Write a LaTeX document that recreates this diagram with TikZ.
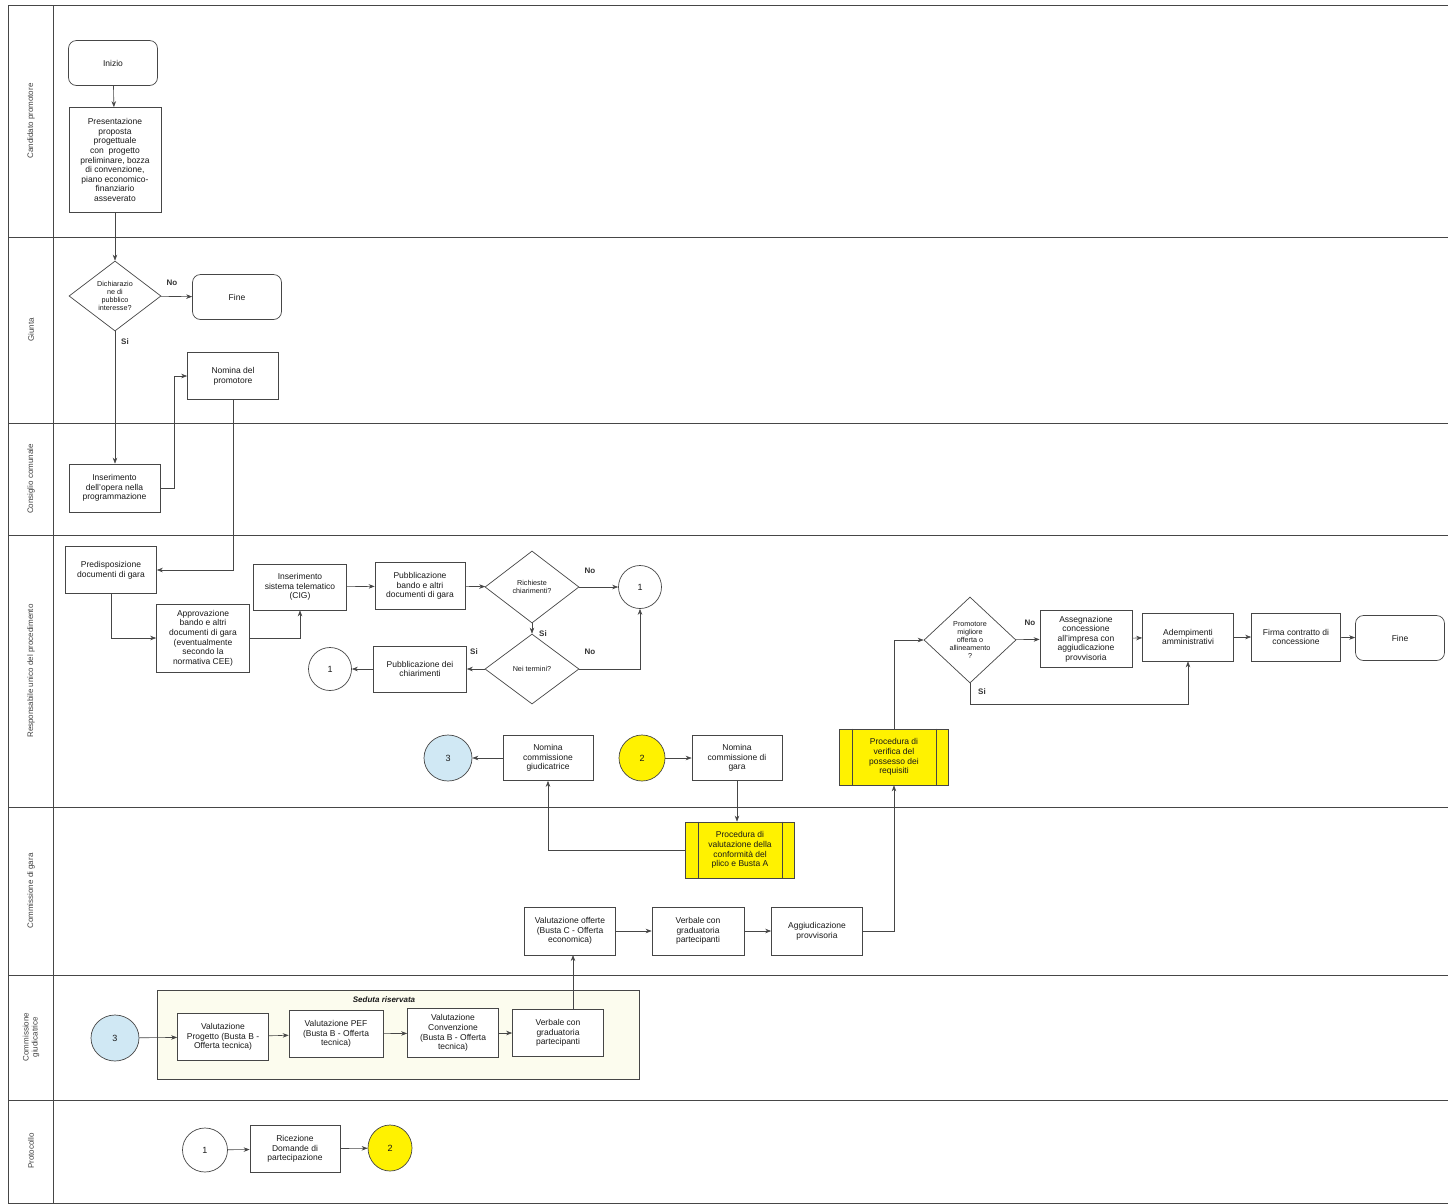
\documentclass[tikz,border=0pt]{standalone}
\usepackage{fontspec}
\setmainfont{Liberation Sans}
\usetikzlibrary{shapes.geometric,arrows.meta}
\definecolor{linec}{RGB}{70,70,70}
\definecolor{yel}{RGB}{255,242,0}
\definecolor{lblue}{RGB}{208,232,244}
\definecolor{cream}{RGB}{252,252,238}
\tikzset{
  every node/.style={font=\fontsize{8.5}{9.6}\selectfont, text=black!90},
  box/.style={draw=linec, fill=white, line width=0.7pt, align=center, inner sep=2pt},
  term/.style={box, rounded corners=8pt},
  dec/.style={draw=linec, fill=white, line width=0.7pt, diamond, aspect=1.3, align=center, inner sep=0pt, font=\fontsize{7.2}{8.2}\selectfont},
  conn/.style={draw=linec, fill=white, line width=0.7pt, ellipse, font=\fontsize{9}{10}\selectfont},
  proc/.style={box, fill=yel},
  lane/.style={rotate=90, font=\fontsize{8}{9}\selectfont, text=black!75},
  arr/.style={draw=linec, line width=0.6pt, -{Stealth[length=6pt,width=4.5pt]}},
  lbl/.style={font=\fontsize{8}{9}\selectfont\bfseries, text=black!80},
}
\begin{document}
\begin{tikzpicture}[x=1pt,y=-1pt]
\useasboundingbox (0,0) rectangle (1448,1203);
\fill[white] (0,0) rectangle (1448,1203);
% lanes
\draw[linec, line width=1pt] (8,5) rectangle (1448,1203);
\draw[linec, line width=1pt] (53,5) -- (53,1203);
\foreach \y in {237,423,535,807,975,1100} \draw[linec, line width=1pt] (8,\y) -- (1448,\y);
\node[lane] (l1) at (31,121) {Candidato promotore};
\node[lane] (l2) at (31,330) {Giunta};
\node[lane] (l3) at (31,479) {Consiglio comunale};
\node[lane] (l4) at (31,671) {Responsabile unico del procedimento};
\node[lane] (l5) at (31,891) {Commissione di gara};
\node[lane, align=center] (l6) at (31,1037) {Commissione\\giudicatrice};
\node[lane] (l7) at (31,1151) {Protocollo};

% Candidato promotore
\node[term, minimum width=89, minimum height=45] (inizio) at (113,63) {Inizio};
\node[box, minimum width=92, minimum height=105] (pres) at (115,160) {Presentazione\\proposta\\progettuale\\con \ progetto\\preliminare, bozza\\di convenzione,\\piano economico-\\finanziario\\asseverato};

% Giunta
\node[dec, minimum width=92, minimum height=70] (dich) at (115,296) {Dichiarazio\\ne di\\pubblico\\interesse?};
\node[term, minimum width=89, minimum height=45] (fine1) at (237,297) {Fine};
\node[box, minimum width=91, minimum height=47] (nomprom) at (233,376) {Nomina del\\promotore};
\node[lbl] (no1) at (172,283) {No};
\node[lbl] (si1) at (125,342) {Si};

% Consiglio comunale
\node[box, minimum width=91, minimum height=48] (inser) at (114.5,488) {Inserimento\\dell'opera nella\\programmazione};

% RUP
\node[box, minimum width=91, minimum height=47] (predisp) at (111,570) {Predisposizione\\documenti di gara};
\node[box, minimum width=93, minimum height=68] (approv) at (203,638) {Approvazione\\bando e altri\\documenti di gara\\(eventualmente\\secondo la\\normativa CEE)};
\node[box, minimum width=93, minimum height=46] (cig) at (300,587) {Inserimento\\sistema telematico\\(CIG)};
\node[box, minimum width=90, minimum height=47] (pubbl) at (420,586) {Pubblicazione\\bando e altri\\documenti di gara};
\node[dec, minimum width=94, minimum height=72] (rich) at (532,587) {Richieste\\chiarimenti?};
\node[conn, minimum width=43, minimum height=43] (c1a) at (640,587) {1};
\node[dec, minimum width=94, minimum height=70] (term) at (532,669) {Nei termini?};
\node[box, minimum width=93, minimum height=46] (pchiar) at (420,669) {Pubblicazione dei\\chiarimenti};
\node[conn, minimum width=43, minimum height=43] (c1b) at (330,669) {1};
\node[lbl] (no2) at (590,571) {No};
\node[lbl] (si2) at (543,634) {Si};
\node[lbl] (no3) at (590,652) {No};
\node[lbl] (si3) at (474,652) {Si};

\node[conn, fill=lblue, minimum width=48, minimum height=46] (c3a) at (448,758) {3};
\node[box, minimum width=90, minimum height=45] (nomgiud) at (548,758) {Nomina\\commissione\\giudicatrice};
\node[conn, fill=yel, minimum width=46, minimum height=46] (c2a) at (642,758) {2};
\node[box, minimum width=90, minimum height=45] (nomgara) at (737,758) {Nomina\\commissione di\\gara};
\node[proc, minimum width=109, minimum height=56] (verif) at (894,757) {Procedura di\\verifica del\\possesso dei\\requisiti};
\draw[linec, line width=0.7pt] ([xshift=13]verif.north west) -- ([xshift=13]verif.south west);
\draw[linec, line width=0.7pt] ([xshift=-13]verif.north east) -- ([xshift=-13]verif.south east);

\node[dec, minimum width=92, minimum height=86] (prom) at (970,640) {Promotore\\migliore\\offerta o\\allineamento\\?};
\node[box, minimum width=92, minimum height=57] (assegn) at (1086,639) {Assegnazione\\concessione\\all'impresa con\\aggiudicazione\\provvisoria};
\node[box, minimum width=91, minimum height=48] (ademp) at (1188,637) {Adempimenti\\amministrativi};
\node[box, minimum width=89, minimum height=48] (firma) at (1296,637) {Firma contratto di\\concessione};
\node[term, minimum width=89, minimum height=45] (fine2) at (1400,638) {Fine};
\node[lbl] (no4) at (1030,623) {No};
\node[lbl] (si4) at (982,692) {Si};

% Commissione di gara
\node[proc, minimum width=109, minimum height=56] (pval) at (740,850) {Procedura di\\valutazione della\\conformità del\\plico e Busta A};
\draw[linec, line width=0.7pt] ([xshift=13]pval.north west) -- ([xshift=13]pval.south west);
\draw[linec, line width=0.7pt] ([xshift=-13]pval.north east) -- ([xshift=-13]pval.south east);
\node[box, minimum width=91, minimum height=48] (valoff) at (570,931) {Valutazione offerte\\(Busta C - Offerta\\economica)};
\node[box, minimum width=92, minimum height=48] (verb1) at (698,931) {Verbale con\\graduatoria\\partecipanti};
\node[box, minimum width=91, minimum height=48] (aggiud) at (817,931) {Aggiudicazione\\provvisoria};

% Commissione giudicatrice
\node[draw=linec, fill=cream, line width=0.7pt, minimum width=482, minimum height=89] (seduta) at (398,1034.5) {};
\node[font=\fontsize{8}{9}\selectfont\bfseries\itshape] (sedt) at (384,1000) {Seduta riservata};
\node[conn, fill=lblue, minimum width=48, minimum height=46] (c3b) at (115,1038) {3};
\node[box, minimum width=91, minimum height=47] (vprog) at (223,1037) {Valutazione\\Progetto (Busta B -\\Offerta tecnica)};
\node[box, minimum width=94, minimum height=47] (vpef) at (336,1034) {Valutazione PEF\\(Busta B - Offerta\\tecnica)};
\node[box, minimum width=91, minimum height=49] (vconv) at (453,1033) {Valutazione\\Convenzione\\(Busta B - Offerta\\tecnica)};
\node[box, minimum width=91, minimum height=47] (verb2) at (558,1033) {Verbale con\\graduatoria\\partecipanti};

% Protocollo
\node[conn, minimum width=45, minimum height=44] (c1c) at (205,1150) {1};
\node[box, minimum width=90, minimum height=47] (ricez) at (295,1149) {Ricezione\\Domande di\\partecipazione};
\node[conn, fill=yel, minimum width=44, minimum height=46] (c2b) at (390,1148) {2};

% connectors
\draw[arr] (inizio) -- (pres);
\draw[arr] (pres) -- (dich);
\draw[arr] (dich) -- (fine1);
\draw[arr] (dich.south) -- (dich.south |- inser.north);
\draw[arr] (inser.east) -- (174,488) |- (nomprom.west);
\draw[arr] (nomprom.south) |- (predisp.east);
\draw[arr] (predisp.south) |- (approv.west);
\draw[arr] (approv.east) -| (cig.south);
\draw[arr] (cig) -- (pubbl);
\draw[arr] (pubbl) -- (rich);
\draw[arr] (rich) -- (c1a);
\draw[arr] (rich.south) -- (term.north);
\draw[arr] (term.east) -| (c1a.south);
\draw[arr] (term) -- (pchiar);
\draw[arr] (pchiar) -- (c1b);
\draw[arr] (nomgiud) -- (c3a);
\draw[arr] (c2a) -- (nomgara);
\draw[arr] (nomgara.south) -- (nomgara.south |- pval.north);
\draw[arr] (pval.west) -| (nomgiud.south);
\draw[arr] (verb2.north -| 573,0) -- (573,955);
\draw[arr] (valoff) -- (verb1);
\draw[arr] (verb1) -- (aggiud);
\draw[arr] (aggiud.east) -| (verif.south);
\draw[arr] (verif.north) |- (prom.west);
\draw[arr] (prom) -- (assegn);
\draw[arr] (assegn) -- (ademp);
\draw[arr] (ademp) -- (firma);
\draw[arr] (firma) -- (fine2);
\draw[arr] (prom.south) -- (970,704) -| (ademp.south);
\draw[arr] (c3b) -- (vprog);
\draw[arr] (vprog) -- (vpef);
\draw[arr] (vpef) -- (vconv);
\draw[arr] (vconv) -- (verb2);
\draw[arr] (c1c) -- (ricez);
\draw[arr] (ricez) -- (c2b);
\end{tikzpicture}
\end{document}
